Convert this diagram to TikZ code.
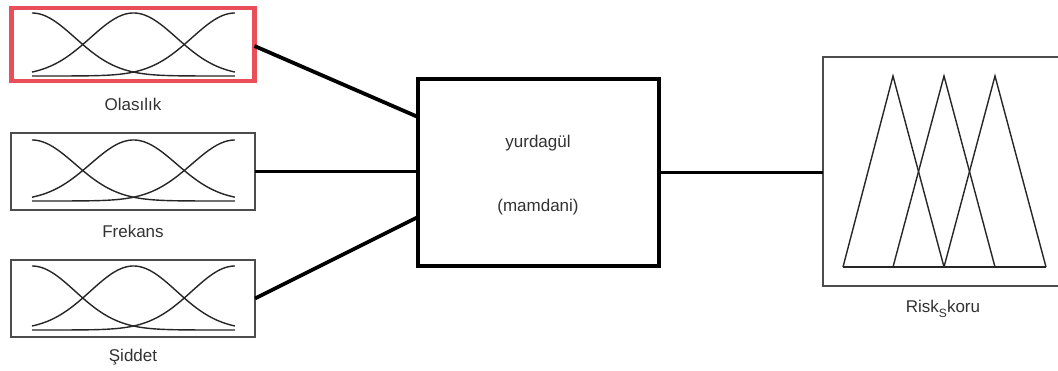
\documentclass[tikz,border=0pt]{standalone}
\usepackage{fontspec}
\setmainfont{Liberation Sans}
\definecolor{selred}{RGB}{234,78,88}
\definecolor{txt}{RGB}{50,50,50}
\newcommand\gaussmfs[4]{% x0, width, bottom y, height
  \foreach \c in {0,0.5,1}{
    \draw[mf] plot[domain=0:1, samples=80, smooth] ({#1+\x*#2},{#3-#4*exp(-(\x-\c)*(\x-\c)/0.0901)});
  }
}
\begin{document}
\begin{tikzpicture}[x=1pt,y=-1pt,
  mfbox/.style={draw=black!70, line width=1.4pt, minimum width=244pt, minimum height=77pt, inner sep=0pt, outer sep=0pt},
  conn/.style={line width=3.8pt, black},
  mf/.style={line width=1.4pt, black!85},
  lbl/.style={font=\fontsize{17}{19}\selectfont, text=txt, anchor=base, inner sep=0pt},
  tri/.style={line width=1.4pt, black!85, line join=miter}]
\fill[white] (0,0) rectangle (1058,371);
\useasboundingbox (0,0) rectangle (1058,371);
\clip (0,0) rectangle (1058,371);
% input boxes
\node[mfbox, draw=selred, line width=4.5pt, minimum width=243pt, minimum height=73pt] (b1) at (133,44.5) {};
\node[mfbox] (b2) at (133,171.5) {};
\node[mfbox] (b3) at (133,298.5) {};
\gaussmfs{32}{203}{76}{63}
\gaussmfs{32}{203}{201}{61}
\gaussmfs{32}{203}{330}{64}
\node[lbl] (l1) at (133,111) {Olasılık};
\node[lbl] (l2) at (133,238) {Frekans};
\node[lbl] (l3) at (133,362) {Şiddet};
% inference box
\node[draw=black, line width=3.8pt, minimum width=241pt, minimum height=187pt, inner sep=0pt, outer sep=0pt] (m) at (538.5,172.5) {};
\node[lbl] (t1) at (538,148) {yurdagül};
\node[lbl] (t2) at (538,212) {(mamdani)};
% output box (its right edge lies beyond the picture)
\node[minimum width=260pt, minimum height=229pt, inner sep=0pt, outer sep=0pt] (r) at (953,171.5) {};
\draw[black!70, line width=1.4pt] (r.north east) -- (r.north west) -- (r.south west) -- (r.south east);
\draw[tri] (843,267) -- (1046,267);
\draw[tri] (843,267) -- (893,76) -- (944,267);
\draw[tri] (893,267) -- (944,76) -- (995,267);
\draw[tri] (944,267) -- (995,76) -- (1046,267);
\node[lbl] (l4) at (943,313) {Risk\raisebox{-0.45ex}{\fontsize{12}{12}\selectfont S}koru};
% connectors
\draw[conn] ([yshift=-1.5pt]b1.east) -- ([yshift=55.5pt]m.west);
\draw[conn] (b2.east) -- (b2.east -| m.west);
\draw[conn] (b3.east) -- ([yshift=-44.5pt]m.west);
\draw[conn] (m.east) -- (m.east -| r.west);
\end{tikzpicture}
\end{document}
